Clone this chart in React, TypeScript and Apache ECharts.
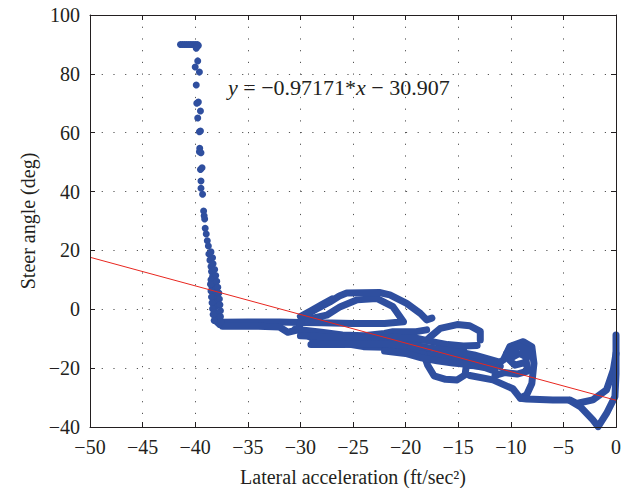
import React, { useEffect, useRef } from 'react';
import * as echarts from 'echarts';

// ---- data ----
const xTickMin = -50;
const xTickMax = 0;
const xTickStep = 5;
const yTickMin = -40;
const yTickMax = 100;
const yTickStep = 20;

const fitSlope = -0.97171;
const fitIntercept = -30.907;
const equationText = '{i|y} = −0.97171{a|*}{i|x} − 30.907';
const xAxisTitle = 'Lateral acceleration (ft/sec²)';
const yAxisTitle = 'Steer angle (deg)';

// saturated samples at the top
const topRow: number[][] = [
  [-41.4, 90], [-41.2, 90], [-41.0, 90], [-40.8, 90], [-40.6, 90], [-40.4, 90],
  [-40.2, 90], [-40.0, 90], [-39.8, 90], [-39.7, 89.6],
];

// sparse samples along the steep descent
const descent: number[][] = [
  [-39.9, 88.7], [-39.76, 84.4], [-40.0, 82.3], [-39.6, 80.6], [-39.9, 76.2],
  [-39.7, 70.4], [-39.85, 70.0], [-39.5, 67.4], [-39.76, 65.0], [-39.5, 60.6],
  [-39.6, 60.3], [-39.57, 54.7], [-39.45, 53.2], [-39.6, 53.5], [-39.35, 48.1],
  [-39.5, 47.5], [-39.45, 43.6], [-39.45, 41.1], [-39.3, 39.1], [-39.2, 33.4],
  [-39.15, 31.8], [-39.1, 30.7], [-39.05, 27.5], [-38.95, 25.6], [-38.85, 23.3],
  [-38.75, 21.5], [-38.7, 18.8], [-38.6, 16.7], [-38.5, 14.5], [-38.45, 12.8],
  [-38.35, 11.1], [-38.5, 10], [-38.2, 8.8], [-38.4, 7.5], [-38.05, 6.6],
  [-38.3, 5.5], [-37.9, 4.9], [-38.2, 3.5], [-38.0, 2.5], [-38.25, 1.5],
  [-38.05, 0.9], [-38.2, -0.5], [-37.95, -1.5], [-38.1, -2.5], [-37.85, -3.5],
  [-37.9, -4.5], [-37.7, -5.2],
];

// second, denser column at the foot of the descent
const descentFoot: number[][] = [
  [-38.5, 19.5], [-38.35, 17.5], [-38.3, 15.5], [-38.15, 13.5], [-38.05, 11.5],
  [-37.95, 9.5], [-37.85, 7.5], [-37.75, 5.5], [-37.7, 3.5], [-37.65, 1.5],
  [-37.6, -0.5], [-37.6, -2.5], [-37.55, -4.2], [-38.55, 8.5], [-38.5, 6.2],
  [-38.45, 4.2], [-38.4, 2.2], [-38.35, 0.2], [-38.3, -1.8], [-38.2, -3.8],
];

// dense, continuous parts of the trajectory
const trackA: number[][] = [
  [-37.6, -4.4], [-35, -4.3], [-32, -4.3], [-30, -4.5], [-28, -4.6], [-25, -4.8],
  [-22, -4.8], [-20.2, -4.2], [-21.2, 0.9], [-22.75, 3.7], [-24.6, 3.2],
  [-26.2, 0.9], [-27.5, -2], [-29.5, -3.5],
];
const trackB: number[][] = [
  [-37.4, -5.8], [-34, -5.8], [-32, -6], [-31.2, -7.8], [-30.2, -7], [-29.8, -2.5],
  [-28.5, 0], [-27.2, 2.5], [-26.3, 4.5], [-25.6, 5.5], [-22.5, 5.7], [-21.5, 4.9],
  [-19.9, 2.0], [-18.6, -1.4], [-18, -3.6], [-17.5, -3],
];
const trackC: number[][] = [
  [-30, -7.5], [-28.8, -10], [-27, -10.4], [-24.3, -10.6], [-22.4, -10.4],
  [-20, -10.8], [-18, -10.5], [-17.7, -9.5], [-16.7, -6.5], [-15.1, -5.2],
  [-13.9, -5.6], [-12.9, -7.5], [-12.9, -10.4],
];
const trackD: number[][] = [
  [-30.5, -6.8], [-28, -7.8], [-26, -8.7], [-24, -9.0], [-22, -8.2],
  [-21.2, -7.6], [-19, -7.6], [-18, -7],
];
const trackE: number[][] = [
  [-28.8, -11], [-26, -11.5], [-24, -12.7], [-22, -12.9], [-19.9, -13.8],
  [-17.4, -15.5], [-15, -16.5], [-13.3, -17.2], [-11, -19.5],
];
const trackF: number[][] = [
  [-19.6, -13.8], [-18.3, -15], [-17.9, -19], [-17.3, -22.6], [-16.2, -23.8],
  [-15.1, -24], [-14.35, -22.3], [-14.2, -18.4], [-14.5, -13.8], [-15.1, -13.3],
  [-16, -14],
];
const trackG: number[][] = [
  [-14.2, -19], [-11.7, -19.5], [-10.7, -17.2], [-10.1, -12.7], [-8.8, -11],
  [-8.0, -12.7], [-7.8, -18.4], [-8.0, -25.2], [-8.5, -29.1], [-9.1, -30.2],
];
const trackH: number[][] = [
  [-13.9, -22.5], [-11.7, -24], [-9.8, -27], [-9.1, -30.2], [-8.5, -30.5],
  [-6, -30.8], [-4.4, -30.8], [-3.75, -32], [-2.2, -30.8], [-0.9, -27.4],
  [-0.25, -20.6], [0, -15], [0, -8.7],
];
const trackI: number[][] = [
  [-4.4, -31], [-3.4, -33.1], [-2.2, -37.6], [-1.7, -39.9], [-0.9, -35.4],
  [-0.1, -29.7], [0, -22], [0, -15],
];
const trackBlob: number[][] = [
  [-10.4, -15], [-9.2, -12.5], [-8.3, -14], [-8.6, -18], [-9.6, -19],
  [-10.2, -17], [-9.2, -15], [-8.6, -16], [-8.4, -21], [-9.4, -22],
  [-10.6, -21.5], [-11.5, -22.5],
];
const trackJ: number[][] = [
  [-30, -9], [-27, -9.4], [-24, -9.8], [-21, -9.5], [-19, -9.8], [-17.5, -11],
  [-16, -12], [-14.5, -12.5], [-13.2, -12.3],
];
const trackK: number[][] = [
  [-29, -12], [-26, -12], [-23, -11.8], [-21, -12], [-19, -12.5], [-17, -13.5],
  [-15, -14.5], [-13.5, -15.5], [-12, -17], [-11, -18],
];
const trackL: number[][] = [
  [-22, -14.2], [-20, -15], [-18.5, -16.5], [-17, -17.5], [-15.5, -18.3],
  [-14, -18.8], [-12.5, -19.8], [-11.5, -21],
];
const trackM: number[][] = [
  [-30, -2.5], [-29, -0.5], [-28, 1.5], [-27, 3.5],
];

const tracks = [
  trackA, trackB, trackC, trackD, trackE, trackF, trackG, trackH, trackI,
  trackBlob, trackJ, trackK, trackL, trackM,
];

const BLUE = '#2f4f9f';
const RED = '#e8261f';
const INK = '#231f20';
const FONT = '"Liberation Serif", "DejaVu Serif", "Times New Roman", serif';
const FS = 20;

// plot frame (layout)
const GRID_LEFT = 90;
const GRID_TOP = 15;
const GRID_RIGHT = 21;
const GRID_BOTTOM = 61;
const W = 637;
const H = 488;

const fmt = (v: number) => (v < 0 ? '−' + Math.abs(v) : String(v));

export default function App() {
  const ref = useRef<HTMLDivElement>(null);

  useEffect(() => {
    if (!ref.current) return;
    const chart = echarts.init(ref.current, undefined, { renderer: 'svg' });

    const fitData = [
      [xTickMin, fitSlope * xTickMin + fitIntercept],
      [xTickMax, fitSlope * xTickMax + fitIntercept],
    ];

    const tick = () => ({ show: true, inside: true, length: 5, lineStyle: { color: INK, width: 1 } });
    const axLine = () => ({ show: true, onZero: false, lineStyle: { color: INK, width: 1 } });
    const grid = { show: true, lineStyle: { color: '#555', width: 1, type: [1.2, 10.5] as any } };

    const option: any = {
      animation: false,
      backgroundColor: '#fff',
      grid: {
        left: GRID_LEFT, right: GRID_RIGHT, top: GRID_TOP, bottom: GRID_BOTTOM,
        containLabel: false, outerBoundsMode: 'none',
      },
      xAxis: [
        {
          type: 'value', min: xTickMin, max: xTickMax, interval: xTickStep, position: 'bottom',
          axisLine: axLine(), axisTick: tick(), splitLine: grid,
          axisLabel: { formatter: fmt, color: INK, fontFamily: FONT, fontSize: FS, margin: 10 },
          name: xAxisTitle, nameLocation: 'middle', nameGap: 40, nameMoveOverlap: false,
          nameTextStyle: { color: INK, fontFamily: FONT, fontSize: FS },
        },
        {
          type: 'value', min: xTickMin, max: xTickMax, interval: xTickStep, position: 'top',
          axisLine: axLine(), axisTick: tick(), splitLine: { show: false }, axisLabel: { show: false },
        },
      ],
      yAxis: [
        {
          type: 'value', min: yTickMin, max: yTickMax, interval: yTickStep, position: 'left',
          axisLine: axLine(), axisTick: tick(), splitLine: grid,
          axisLabel: { formatter: fmt, color: INK, fontFamily: FONT, fontSize: FS, margin: 10 },
          name: yAxisTitle, nameLocation: 'middle', nameGap: 52, nameRotate: 90, nameMoveOverlap: false,
          nameTextStyle: { color: INK, fontFamily: FONT, fontSize: FS },
        },
        {
          type: 'value', min: yTickMin, max: yTickMax, interval: yTickStep, position: 'right',
          axisLine: axLine(), axisTick: tick(), splitLine: { show: false }, axisLabel: { show: false },
        },
      ],
      series: [
        ...tracks.map((t) => ({
          type: 'line', data: t, showSymbol: false, symbol: 'none', silent: true,
          lineStyle: { color: BLUE, width: 7, cap: 'round', join: 'round' },
          z: 2,
        })),
        {
          type: 'scatter', data: [...topRow, ...descent, ...descentFoot], symbol: 'circle', symbolSize: 7,
          itemStyle: { color: BLUE, opacity: 1 }, z: 3, silent: true,
        },
        {
          type: 'line', data: fitData, showSymbol: false, symbol: 'none', silent: true,
          lineStyle: { color: RED, width: 1 }, z: 5,
        },
      ],
      graphic: [
        {
          type: 'rect', z: 100, silent: true,
          shape: {
            x: GRID_LEFT + 0.5, y: GRID_TOP + 0.5,
            width: W - GRID_LEFT - GRID_RIGHT - 1 + 1, height: H - GRID_TOP - GRID_BOTTOM,
          },
          style: { fill: 'none', stroke: INK, lineWidth: 1 },
        },
        {
          type: 'text', left: 228, top: 76, z: 10,
          style: {
            text: equationText, fill: INK, fontFamily: FONT, fontSize: 22,
            rich: {
              i: { fontStyle: 'italic', fontFamily: FONT, fontSize: 22, fill: INK },
              a: { fontFamily: FONT, fontSize: 22, fill: INK },
            },
          },
        },
      ],
    };

    chart.setOption(option);
    return () => chart.dispose();
  }, []);

  return (
    <div
      ref={ref}
      style={{ position: 'fixed', left: 0, top: 0, width: W, height: H, background: '#fff' }}
    />
  );
}
